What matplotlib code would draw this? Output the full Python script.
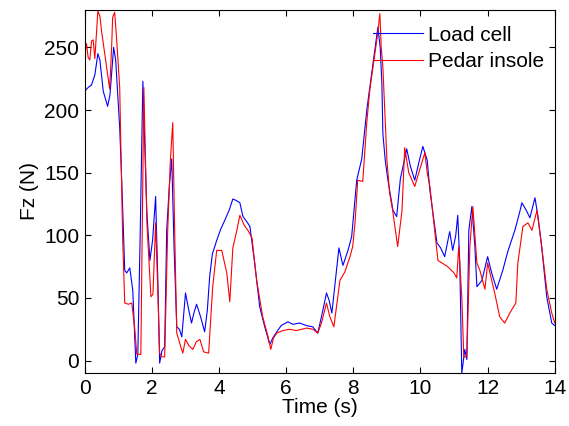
import matplotlib
matplotlib.use("Agg")
import matplotlib.pyplot as plt

load_t = [0.00,0.10,0.20,0.30,0.39,0.45,0.55,0.68,0.75,0.86,0.92,1.04,1.10,1.19,1.25,1.34,1.43,1.52,1.58,1.65,1.73,1.80,1.85,1.94,2.02,2.11,2.18,2.23,2.30,2.38,2.44,2.52,2.59,2.66,2.74,2.82,2.89,3.00,3.10,3.18,3.25,3.33,3.45,3.57,3.65,3.72,3.80,3.93,4.05,4.17,4.30,4.41,4.50,4.62,4.71,4.85,4.92,5.06,5.21,5.36,5.51,5.60,5.72,5.85,6.05,6.20,6.40,6.60,6.79,6.94,7.05,7.20,7.28,7.36,7.45,7.57,7.69,7.84,7.95,8.02,8.10,8.25,8.40,8.49,8.64,8.73,8.80,8.85,8.88,8.95,9.03,9.08,9.18,9.29,9.40,9.59,9.70,9.83,9.95,10.07,10.20,10.28,10.49,10.60,10.72,10.87,10.96,11.05,11.11,11.17,11.23,11.32,11.38,11.44,11.53,11.62,11.68,11.83,12.00,12.12,12.27,12.45,12.60,12.81,12.95,13.02,13.15,13.26,13.41,13.50,13.61,13.76,13.91,14.00]
load_f = [215,218,220,228,245,240,215,203,212,250,240,186,144,72,70,74,56,-2,5,100,223,160,118,80,96,131,60,-2,8,11,104,140,161,90,27,25,19,54,40,30,38,45,35,23,40,67,85,96,105,112,120,129,128,126,115,110,107,78,43,27,13,18,23,28,31,29,30,28,27,22,35,54,48,38,60,90,76,88,99,120,144,161,200,218,248,266,250,221,181,160,144,136,120,115,145,169,155,144,158,171,160,136,94,90,83,103,88,100,116,78,-10,9,1,104,123,91,59,64,83,70,57,72,87,104,118,126,120,114,130,115,91,51,30,28]

pedar_t = [0.00,0.05,0.10,0.15,0.20,0.25,0.30,0.35,0.39,0.45,0.50,0.65,0.74,0.80,0.83,0.89,0.95,1.04,1.13,1.19,1.30,1.40,1.49,1.55,1.67,1.72,1.76,1.80,1.85,1.97,2.03,2.11,2.17,2.23,2.30,2.38,2.47,2.55,2.62,2.68,2.74,2.85,2.92,3.00,3.10,3.22,3.32,3.43,3.54,3.69,3.81,3.93,4.08,4.23,4.32,4.41,4.53,4.62,4.75,4.86,4.98,5.12,5.30,5.45,5.54,5.62,5.72,5.90,6.10,6.30,6.61,6.80,6.94,7.05,7.20,7.30,7.42,7.60,7.75,7.90,7.98,8.05,8.13,8.28,8.40,8.49,8.64,8.72,8.79,8.83,8.88,9.00,9.08,9.17,9.32,9.45,9.53,9.65,9.83,9.95,10.13,10.20,10.28,10.52,10.81,11.00,11.08,11.14,11.23,11.29,11.38,11.47,11.56,11.68,11.77,11.92,12.00,12.21,12.36,12.51,12.66,12.84,12.90,13.05,13.20,13.32,13.47,13.61,13.76,13.91,14.00]
pedar_f = [245,253,242,240,255,256,241,262,279,275,263,234,217,250,274,278,256,218,96,46,45,46,25,5,5,120,218,170,110,51,53,110,60,6,3,3,104,160,190,100,22,12,6,17,12,9,15,17,7,6,59,88,88,70,47,90,104,116,108,104,98,64,35,20,9,18,22,24,25,24,26,25,22,30,46,35,27,64,71,83,91,110,144,143,190,216,245,260,277,250,234,160,134,120,91,120,170,150,139,150,166,150,139,80,75,70,66,91,51,3,3,91,123,78,72,57,78,54,35,30,38,46,78,107,110,104,120,91,57,38,30]

x_ticks = [0, 2, 4, 6, 8, 10, 12, 14]
y_ticks = [0, 50, 100, 150, 200, 250]

plt.rcParams['font.family'] = ['Liberation Sans', 'DejaVu Sans']
fig = plt.figure(figsize=(5.69, 4.26), dpi=100)
ax = fig.add_axes([0.149, 0.124, 0.826, 0.853])
ax.plot(load_t, load_f, color='#0000ff', lw=0.8, label='Load cell')
ax.plot(pedar_t, pedar_f, color='#ff0000', lw=0.8, label='Pedar insole')
ax.set_xlim(0, 14)
ax.set_ylim(-10, 280)
ax.set_xticks(x_ticks)
ax.set_yticks(y_ticks)
ax.tick_params(direction='in', top=True, right=True, labelsize=15, length=4, width=0.8, pad=4)
for s in ax.spines.values():
    s.set_linewidth(0.8)
ax.set_xlabel('Time (s)', fontsize=15, labelpad=0)
ax.set_ylabel('Fz (N)', fontsize=15, labelpad=4)
leg = ax.legend(loc='upper right', bbox_to_anchor=(1.0, 0.985), frameon=False, fontsize=15,
                handlelength=2.4, handletextpad=0.25, borderaxespad=0.2,
                labelspacing=0.35, borderpad=0.3)
fig.savefig('out.png', dpi=100)
